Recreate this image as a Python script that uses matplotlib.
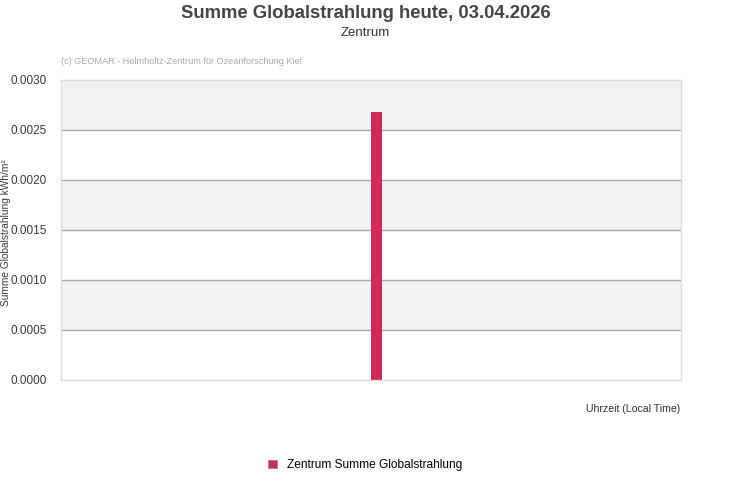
import numpy as np
import matplotlib.pyplot as plt
from matplotlib.patches import Patch

# data
hours = [12.21]
values = [0.00268]
y_ticks = [0.0, 0.0005, 0.0010, 0.0015, 0.0020, 0.0025, 0.0030]
series_name = "Zentrum Summe Globalstrahlung"

plt.rcParams['font.family'] = ['Liberation Sans', 'DejaVu Sans']

fig = plt.figure(figsize=(7.31, 5.0), dpi=100)
ax = fig.add_axes([61 / 731, 1 - 380 / 500, 620 / 731, 300 / 500])

# alternating bands, gray on top
for i in range(len(y_ticks) - 1):
    if (len(y_ticks) - 2 - i) % 2 == 0:
        ax.axhspan(y_ticks[i], y_ticks[i + 1], color='#f2f2f2', zorder=0, lw=0)
for t in y_ticks[1:-1]:
    ax.axhline(t, color='#a8a8a8', lw=1.0, zorder=1)

ax.bar(hours, values, width=0.43, color='#d02a57', zorder=2)

ax.set_xlim(0, 24)
ax.set_ylim(y_ticks[0], y_ticks[-1])
ax.set_yticks(y_ticks)
ax.set_yticklabels([f"{t:.4f}" for t in y_ticks], fontsize=8.5, color='#3a3a3a')
ax.set_xticks([])
ax.tick_params(axis='y', length=0, pad=10)
for s in ax.spines.values():
    s.set_color('#dcdcdc')
    s.set_linewidth(1.0)

fig.text(6 / 731, 1 - 233 / 500, "Summe Globalstrahlung kWh/m²", rotation=90, ha='center', va='center',
         fontsize=7.3, color='#3a3a3a')

fig.text(0.5, 1 - 13 / 500, "Summe Globalstrahlung heute, 03.04.2026", ha='center', va='center',
         fontsize=13.3, fontweight='bold', color='#444444')
fig.text(0.5, 1 - 33 / 500, "Zentrum", ha='center', va='center', fontsize=9.5, color='#333333')
fig.text(61 / 731, 1 - 61 / 500, "(c) GEOMAR - Helmholtz-Zentrum für Ozeanforschung Kiel", ha='left',
         va='center', fontsize=6.6, color='#aaaaaa')
fig.text(680 / 731, 1 - 409 / 500, "Uhrzeit (Local Time)", ha='right', va='center', fontsize=7.6,
         color='#333333')

handle = Patch(facecolor='#d02a57', edgecolor='#888888', lw=0.6)
fig.legend([handle], [series_name], loc='center', bbox_to_anchor=(0.5, 1 - 465 / 500),
           frameon=False, fontsize=8.6, handlelength=0.7, handleheight=0.7, handletextpad=0.9)

fig.savefig('out.png', dpi=100)
